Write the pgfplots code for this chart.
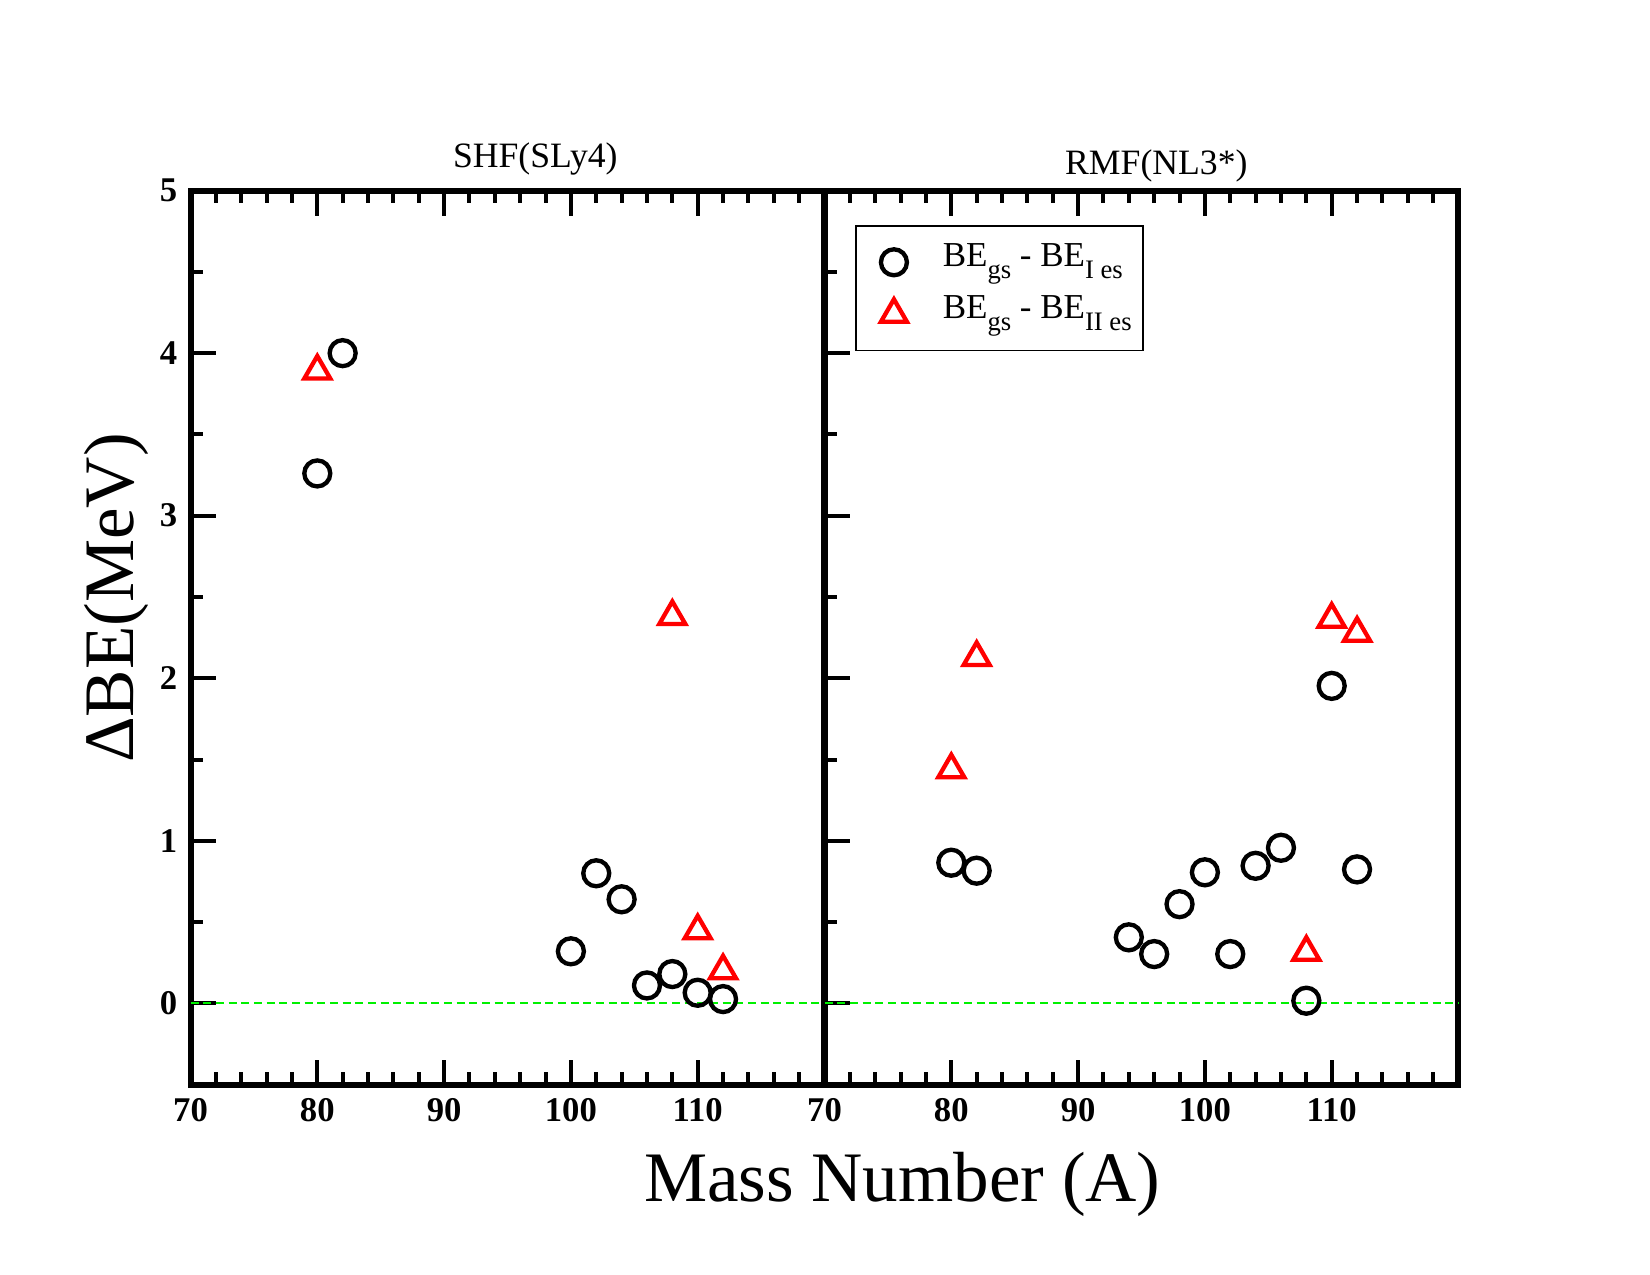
\documentclass[border=0pt]{standalone}
\usepackage{fontspec}
\setmainfont{Liberation Serif}
\usepackage{pgfplots}
\pgfplotsset{compat=1.18}

\definecolor{markred}{rgb}{1,0,0}
\definecolor{zeroline}{rgb}{0,0.94,0}

% lowered, smaller subscript text as in the legend entries
\newcommand{\sub}[1]{\raisebox{-3.5pt}{\fontsize{8}{9}\selectfont #1}}

\pgfplotsset{
  panel/.style={
    scale only axis,
    width=190.2pt, height=268.2pt,
    xmin=70, xmax=120, ymin=-0.5, ymax=5,
    xtick={70,80,...,110},
    minor xtick={72,74,...,118},
    ytick={0,1,...,5},
    minor ytick={0.5,1.5,...,4.5},
    xtick pos=both, ytick pos=left,
    tick align=inside,
    major tick length=7.5pt, minor tick length=3.8pt,
    tick style={black, line width=1.2pt},
    axis line style={line width=1.8pt},
    /pgf/number format/assume math mode=true,
    tick label style={font=\fontsize{10.4}{12}\selectfont\bfseries, inner sep=0pt},
    xticklabel shift=4pt, yticklabel shift=3.8pt,
    clip=false,
  },
  circ/.style={only marks, mark=o, mark size=3.9pt, line width=1.3pt, black},
  tri/.style={only marks, mark=triangle, mark size=4.5pt, line width=1.3pt, markred},
  zero/.style={zeroline, line width=0.7pt, dash pattern=on 2.4pt off 1.4pt, forget plot},
  % single legend symbol, with fixed room on its left and right
  lgimg/.style={legend image code/.code={%
      \path (-7.4pt,0pt) (4pt,0pt);
      \draw[##1] plot coordinates {(0pt,0pt)};}},
}

% SHF(SLy4): BE_gs - BE_I es and BE_gs - BE_II es
\pgfplotstableread{
A dBE
80 3.26
82 4.00
100 0.32
102 0.80
104 0.64
106 0.11
108 0.18
110 0.065
112 0.026
}\shfone
\pgfplotstableread{
A dBE
80 3.89
108 2.38
110 0.446
112 0.20
}\shftwo

% RMF(NL3*)
\pgfplotstableread{
A dBE
80 0.865
82 0.816
94 0.406
96 0.303
98 0.61
100 0.806
102 0.303
104 0.846
106 0.957
108 0.016
110 1.953
112 0.824
}\rmfone
\pgfplotstableread{
A dBE
80 1.437
82 2.128
108 0.314
110 2.363
112 2.277
}\rmftwo

\begin{document}
\begin{tikzpicture}
\useasboundingbox (0pt,0pt) rectangle (495pt,382.5pt);

\begin{axis}[panel, at={(57.15pt,57.12pt)}, anchor=south west]
  \addplot[zero] coordinates {(70,0) (120,0)};
  \addplot[circ] table[x=A, y=dBE] {\shfone};
  \addplot[tri] table[x=A, y=dBE] {\shftwo};
\end{axis}

\begin{axis}[panel, at={(247.35pt,57.12pt)}, anchor=south west,
    yticklabels={},
    legend cell align=left,
    legend style={at={(0.048,0.9614)}, anchor=north west,
      draw=black, line width=0.5pt, fill=white,
      inner xsep=3.4pt, inner ysep=3.6pt, row sep=1pt,
      font=\fontsize{10.5}{12}\selectfont,
      nodes={inner sep=0pt, text height=8.6pt, text depth=6pt},
      /tikz/every odd column/.append style={column sep=10pt}},
  ]
  \addplot[zero] coordinates {(70,0) (120,0)};
  \addplot[circ, lgimg] table[x=A, y=dBE] {\rmfone};
  \addlegendentry{BE\sub{gs} - BE\sub{I es}}
  \addplot[tri, lgimg] table[x=A, y=dBE] {\rmftwo};
  \addlegendentry{BE\sub{gs} - BE\sub{II es}}
\end{axis}

\node[anchor=base, font=\fontsize{10.7}{12}\selectfont] at (160.6pt,332.3pt) {SHF(SLy4)};
\node[anchor=base, font=\fontsize{10.7}{12}\selectfont] at (346.9pt,330pt) {RMF(NL3*)};
\node[anchor=base, font=\fontsize{21.3}{24}\selectfont] at (270.7pt,22pt) {Mass Number (A)};
\node[anchor=base, rotate=90, font=\fontsize{21.3}{24}\selectfont] at (39.9pt,203.1pt) {ΔBE(MeV)};
\end{tikzpicture}
\end{document}
